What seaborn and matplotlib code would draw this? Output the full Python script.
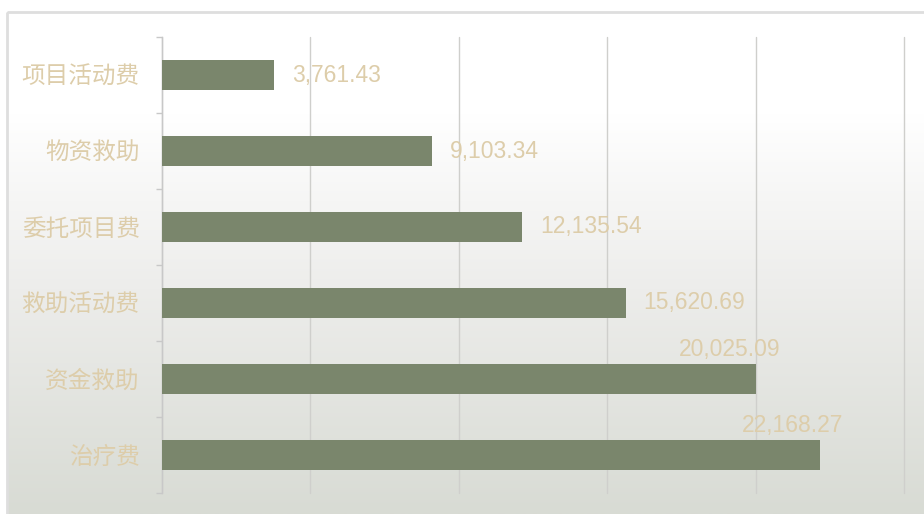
import matplotlib
matplotlib.use("Agg")
import matplotlib.pyplot as plt
import numpy as np
import pandas as pd
import seaborn as sns
from matplotlib.colors import LinearSegmentedColormap
from matplotlib.patches import Rectangle
from matplotlib.ticker import FixedLocator

categories = ["项目活动费", "物资救助", "委托项目费", "救助活动费", "资金救助", "治疗费"]
values = [3761.43, 9103.34, 12135.54, 15620.69, 20025.09, 22168.27]

BAR = "#7A866C"
TAN = "#DDCDAA"
GRID = "#CFCFCC"

sns.set_theme(style="white")
plt.rcParams["font.family"] = ["Noto Sans CJK SC", "DejaVu Sans"]

W, H = 924, 514
fig = plt.figure(figsize=(W / 100, H / 100), dpi=100)

# background: white page, framed panel with vertical gradient
bg = fig.add_axes([0, 0, 1, 1], zorder=-2)
bg.set_xlim(0, W)
bg.set_ylim(H, 0)
bg.axis("off")
cmap = LinearSegmentedColormap.from_list(
    "bg", [(0, "#FFFFFF"), (0.2, "#FFFFFF"), (0.55, "#EDEDEB"), (1, "#D8DBD4")])
grad = np.linspace(0, 1, 256).reshape(-1, 1)
bg.imshow(grad, cmap=cmap, aspect="auto", extent=(8, W, H, 13), zorder=0)
bg.add_patch(Rectangle((7, 12), W, H, fill=False, edgecolor="#DEDEDE", linewidth=2, zorder=1))

ax = fig.add_axes([162 / W, (H - 493) / H, (904 - 162) / W, (493 - 37) / H])
ax.set_facecolor("none")

df = pd.DataFrame({"category": categories, "value": values})
sns.barplot(data=df, x="value", y="category", orient="h", color=BAR,
            saturation=1, width=0.4, linewidth=0, ax=ax, zorder=3)

ax.set_xlim(0, 25000)
ax.set_ylim(len(categories) - 0.5, -0.5)
ax.set_xticks(np.arange(0, 25001, 5000))
ax.xaxis.grid(True, color=GRID, linewidth=1)
for gl in ax.get_xgridlines():
    gl.set_clip_on(False)
ax.set_axisbelow(True)
ax.tick_params(axis="x", length=0, labelbottom=False)
ax.set_xlabel("")
ax.set_ylabel("")

ax.yaxis.set_minor_locator(FixedLocator(np.arange(-0.5, len(categories), 1.0)))
ax.tick_params(axis="y", which="major", length=0, pad=16, labelsize=17, labelcolor=TAN)
ax.tick_params(axis="y", which="minor", left=True, length=4, width=1, color="#C8C8C8")

for s in ["top", "right", "bottom"]:
    ax.spines[s].set_visible(False)
ax.spines["left"].set_color("#C8C8C8")
ax.spines["left"].set_linewidth(1)

for i, v in enumerate(values):
    text = f"{v:,.2f}"
    if v >= 20000:
        ax.annotate(text, (v, i - 0.2), xytext=(-27, 8), textcoords="offset pixels",
                    ha="center", va="baseline", fontsize=16.5, color=TAN,
                    family="Liberation Sans", zorder=4)
    else:
        ax.annotate(text, (v, i), xytext=(18, 0), textcoords="offset pixels",
                    ha="left", va="center", fontsize=16.5, color=TAN,
                    family="Liberation Sans", zorder=4)

fig.savefig("out.png", dpi=100)
